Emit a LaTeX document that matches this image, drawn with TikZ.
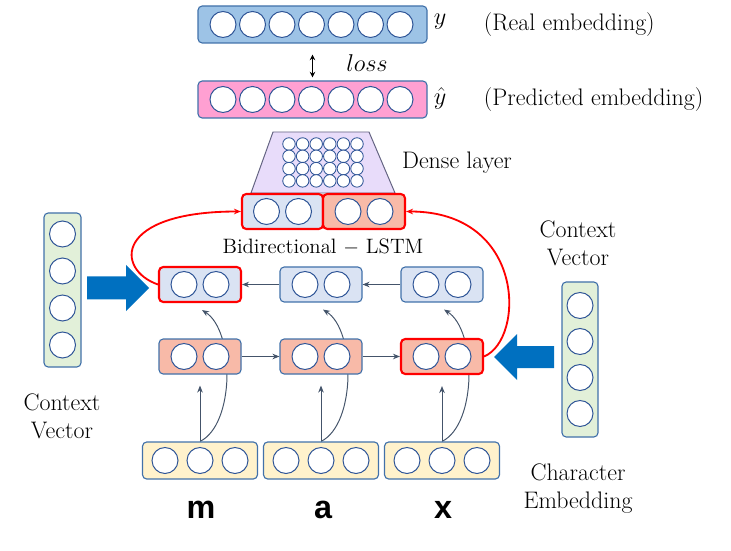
\documentclass[tikz,border=0pt]{standalone}
\usepackage{fontspec}
\usepackage{amsmath}
\usetikzlibrary{calc,positioning,arrows.meta}
\newfontfamily\charfont{Liberation Sans}
\definecolor{realblue}{RGB}{157,195,230}
\definecolor{predpink}{RGB}{255,160,210}
\definecolor{densefill}{RGB}{232,220,250}
\definecolor{denseline}{RGB}{100,100,130}
\definecolor{bwdfill}{RGB}{218,227,243}
\definecolor{fwdfill}{RGB}{248,186,168}
\definecolor{charfill}{RGB}{255,242,204}
\definecolor{ctxfill}{RGB}{226,240,217}
\definecolor{boxline}{RGB}{65,113,170}
\definecolor{unitline}{RGB}{47,85,151}
\definecolor{flowgray}{RGB}{68,84,106}
\definecolor{bigblue}{RGB}{0,112,192}
\pgfdeclarelayer{background}
\pgfsetlayers{background,main}
\def\px{0.025cm}

\begin{document}
\begin{tikzpicture}[
        x=0.025cm,y=-0.025cm,
        BoxCfg/.style={
            draw=boxline,
            rounded corners=3pt,
            line width=0.8pt,
            inner sep=0pt
        },
        LstmCfg/.style={BoxCfg,minimum width=82*\px,minimum height=35*\px},
        UnitCfg/.style={
            circle,
            draw=unitline,
            fill=white,
            line width=0.7pt,
            inner sep=0pt,
            minimum size=26*\px
        },
        SmallUnit/.style={UnitCfg,minimum size=12.5*\px,line width=0.6pt},
        RedCfg/.style={draw=red,line width=1.5pt},
        FlowCfg/.style={draw=flowgray,line width=0.7pt,-{Stealth[length=5pt,width=4pt]}},
        RedFlow/.style={draw=red,line width=1.3pt,-{Stealth[length=5pt,width=4pt]}},
        TxtCfg/.style={font=\fontsize{17}{20}\selectfont},
        CharCfg/.style={font=\charfont\bfseries\fontsize{23}{28}\selectfont}
    ]
    \useasboundingbox (0,0) rectangle (731,551);

    %real embedding
    \node[BoxCfg,fill=realblue,minimum width=229*\px,minimum height=37*\px] (Y) at (312.5,24.5) {};
    \foreach \i in {0,...,6}
        \node[UnitCfg] (Y-\i) at (223+29.5*\i,24.5) {};
    \node[TxtCfg] (YL) at (440,22) {$y$};
    \node[TxtCfg,anchor=west] (YT) at (479,25) {(Real embedding)};

    %predicted embedding
    \node[BoxCfg,fill=predpink,minimum width=229*\px,minimum height=37*\px] (P) at (312.5,99.5) {};
    \foreach \i in {0,...,6}
        \node[UnitCfg] (P-\i) at (223+29.5*\i,99.5) {};
    \node[TxtCfg] (PL) at (440,98) {$\hat{y}$};
    \node[TxtCfg,anchor=west] (PT) at (479,100) {(Predicted embedding)};

    %loss
    \draw[{Stealth[length=4pt,width=4pt]}-{Stealth[length=4pt,width=4pt]},line width=0.7pt,shorten <=11*\px,shorten >=3*\px] (Y) -- (P);
    \node[TxtCfg] (LOSS) at (367,63) {$loss$};

    %dense layer
    \draw[fill=densefill,draw=denseline,line width=0.7pt] (273,132)coordinate (A)--(369,132)coordinate (B)--(395,193)coordinate (C)--(251,193)coordinate (D)--cycle;
    \foreach \i in {0,...,5}
        \foreach \j in {0,...,3}
            \node[SmallUnit] (D-\i-\j) at (289+13.6*\i,144+12.3*\j) {};
    \node[TxtCfg] (DL) at (457,163) {Dense layer};

    %concatenated output
    \node[LstmCfg,RedCfg,fill=bwdfill,minimum width=81*\px] (CL) at (282.5,211.5) {};
    \node[LstmCfg,RedCfg,fill=fwdfill] (CR) at (364,211.5) {};
    \node[UnitCfg] (CL-1) at (266.5,211.5) {};
    \node[UnitCfg] (CL-2) at (298.5,211.5) {};
    \node[UnitCfg] (CR-1) at (348,211.5) {};
    \node[UnitCfg] (CR-2) at (380,211.5) {};
    \node[font=\fontsize{14.8}{18}\selectfont] (BL) at (323,247) {Bidirectional $-$ LSTM};

    %backward LSTM
    \node[LstmCfg,RedCfg,fill=bwdfill] (B1) at (200,284.5) {};
    \node[LstmCfg,fill=bwdfill] (B2) at (321,284.5) {};
    \node[LstmCfg,fill=bwdfill] (B3) at (442,284.5) {};
    \foreach \n in {1,2,3}{
        \node[UnitCfg] at ($(B\n)+(-16,0)$) {};
        \node[UnitCfg] at ($(B\n)+(16,0)$) {};
    }

    %forward LSTM
    \node[LstmCfg,fill=fwdfill] (F1) at (200,356.5) {};
    \node[LstmCfg,fill=fwdfill] (F2) at (321,356.5) {};
    \node[LstmCfg,RedCfg,fill=fwdfill] (F3) at (442,356.5) {};
    \foreach \n in {1,2,3}{
        \node[UnitCfg] at ($(F\n)+(-16,0)$) {};
        \node[UnitCfg] at ($(F\n)+(16,0)$) {};
    }

    %character embedding
    \node[BoxCfg,fill=charfill,minimum width=115*\px,minimum height=37*\px] (C1) at (200,460.5) {};
    \node[BoxCfg,fill=charfill,minimum width=115*\px,minimum height=37*\px] (C2) at (321,460.5) {};
    \node[BoxCfg,fill=charfill,minimum width=115*\px,minimum height=37*\px] (C3) at (442,460.5) {};
    \foreach \n in {1,2,3}{
        \node[UnitCfg] at ($(C\n)+(-35,0)$) {};
        \node[UnitCfg] at (C\n) {};
        \node[UnitCfg] at ($(C\n)+(35,0)$) {};
    }
    \node[CharCfg] (M) at (201,510) {m};
    \node[CharCfg] (AA) at (323,510) {a};
    \node[CharCfg] (X) at (443,510) {x};

    %context vectors
    \node[BoxCfg,fill=ctxfill,minimum width=37*\px,minimum height=154*\px] (CTXL) at (62.5,290) {};
    \foreach \i in {0,...,3}
        \node[UnitCfg] (CTXL-\i) at (62.5,234+37*\i) {};
    \node[TxtCfg,align=center] (CTXLT) at (62,416) {Context\\Vector};
    \node[BoxCfg,fill=ctxfill,minimum width=36*\px,minimum height=155*\px] (CTXR) at (580,359.5) {};
    \foreach \i in {0,...,3}
        \node[UnitCfg] (CTXR-\i) at (580,305.5+36*\i) {};
    \node[TxtCfg,align=center] (CTXRT) at (578,243) {Context\\Vector};
    \node[TxtCfg,align=center] (CHT) at (578,489) {Character\\Embedding};

    %big arrows
    \fill[bigblue] (87,276.5)--(126,276.5)--(126,265)--(149,288)--(126,311)--(126,299.5)--(87,299.5)--cycle;
    \fill[bigblue] (554,346)--(517,346)--(517,334)--(494,357)--(517,380)--(517,368)--(554,368)--cycle;

    %connections
    \draw[FlowCfg] (B3.west)--(B2.east);
    \draw[FlowCfg] (B2.west)--(B1.east);
    \draw[FlowCfg] (F1.east)--(F2.west);
    \draw[FlowCfg] (F2.east)--(F3.west);
    \begin{pgfonlayer}{background}
    \foreach \n in {1,2,3}{
        \draw[FlowCfg] (C\n.north) .. controls ($(C\n.north)+(35,-17)$) and ($(B\n.south)+(35,28)$) .. ($(B\n.south)+(2,7)$);
    }
    \end{pgfonlayer}
    \foreach \n in {1,2,3}
        \draw[FlowCfg,shorten >=11*\px] (C\n.north)--(F\n.south);
    \draw[RedFlow] (B1.west) .. controls ($(B1.west)+(-43,-15)$) and ($(CL.west)+(-127,0)$) .. (CL.west);
    \draw[RedFlow] (F3.east) .. controls ($(F3.east)+(41,-17)$) and ($(CR.east)+(120,0)$) .. (CR.east);

\end{tikzpicture}
\end{document}
